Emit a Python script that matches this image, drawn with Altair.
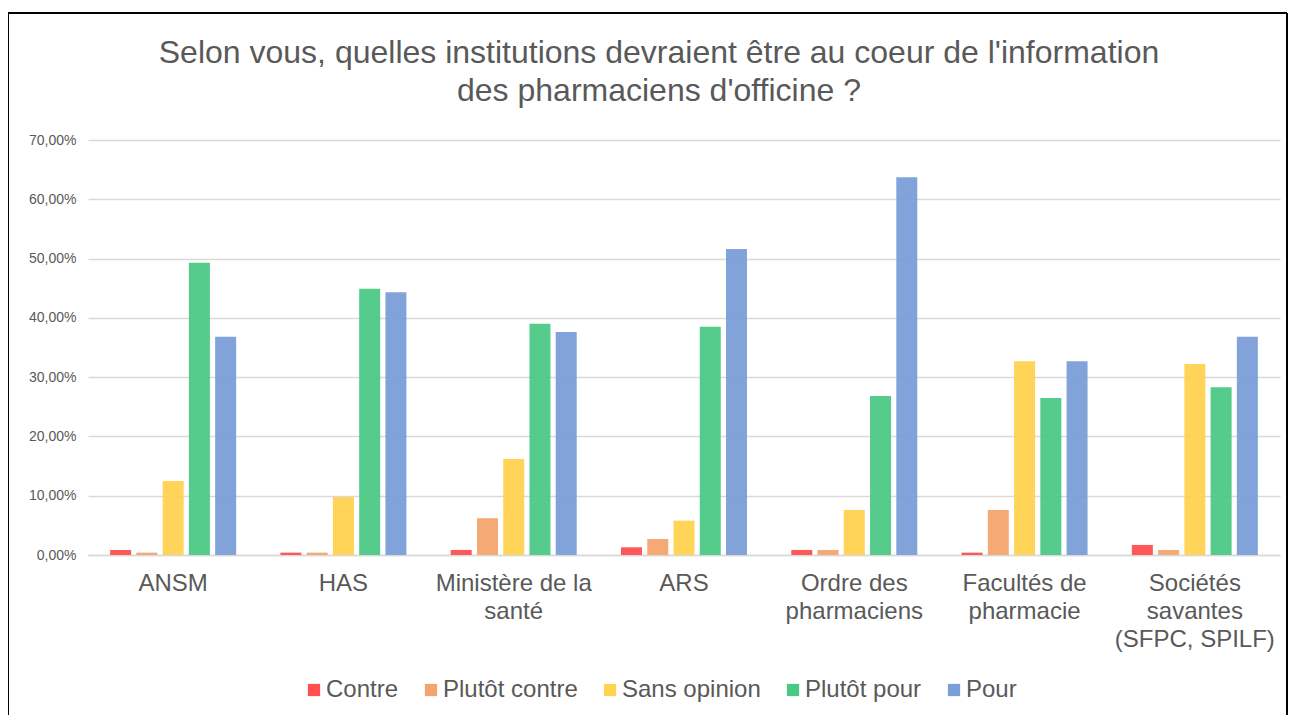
import altair as alt
import pandas as pd

categories = ["ANSM", "HAS", "Ministère de la santé", "ARS", "Ordre des pharmaciens",
              "Facultés de pharmacie", "Sociétés savantes (SFPC, SPILF)"]
label_lines = {
    "ANSM": ["ANSM"],
    "HAS": ["HAS"],
    "Ministère de la santé": ["Ministère de la", "santé"],
    "ARS": ["ARS"],
    "Ordre des pharmaciens": ["Ordre des", "pharmaciens"],
    "Facultés de pharmacie": ["Facultés de", "pharmacie"],
    "Sociétés savantes (SFPC, SPILF)": ["Sociétés", "savantes", "(SFPC, SPILF)"],
}
series = ["Contre", "Plutôt contre", "Sans opinion", "Plutôt pour", "Pour"]
colors = ["#FF4F4F", "#F4A46E", "#FFD24F", "#4CC886", "#7B9ED8"]

contre = [0.85, 0.4, 0.85, 1.3, 0.85, 0.4, 1.7]
plutot_contre = [0.4, 0.4, 6.2, 2.7, 0.85, 7.6, 0.85]
sans_opinion = [12.5, 9.8, 16.2, 5.8, 7.6, 32.7, 32.2]
plutot_pour = [49.3, 44.9, 39.0, 38.5, 26.8, 26.5, 28.3]
pour = [36.8, 44.3, 37.6, 51.6, 63.7, 32.7, 36.8]

values = [contre, plutot_contre, sans_opinion, plutot_pour, pour]
rows = []
for s, vals in zip(series, values):
    for c, v in zip(categories, vals):
        rows.append({"Institution": c, "Avis": s, "Valeur": v})
df = pd.DataFrame(rows)

# label expression for multi-line category labels
expr = "datum.label"
for c in reversed(categories):
    lines = label_lines[c]
    arr = "[" + ",".join("'" + l + "'" for l in lines) + "]"
    expr = f"datum.label === '{c}' ? {arr} : ({expr})"

W, H = 1192, 415
FONT = "Liberation Sans"
GREY = "#595959"

bars = alt.Chart(df).mark_bar(opacity=0.95).encode(
    x=alt.X("Institution:N", sort=categories,
            scale=alt.Scale(paddingInner=0.26, paddingOuter=0.13),
            axis=alt.Axis(title=None, labelAngle=0, labelFontSize=24, labelColor=GREY,
                          labelFont=FONT, labelPadding=16, labelLineHeight=28,
                          ticks=False, domainColor="#d9d9d9", domainWidth=1.5,
                          labelExpr=expr, labelBaseline="top")),
    xOffset=alt.XOffset("Avis:N", sort=series,
                        scale=alt.Scale(paddingInner=0.2, paddingOuter=0)),
    y=alt.Y("Valeur:Q", scale=alt.Scale(domain=[0, 70]),
            axis=alt.Axis(title=None, values=[0, 10, 20, 30, 40, 50, 60, 70],
                          labelExpr="replace(format(datum.value, '.2f'), '.', ',') + '%'",
                          labelFontSize=14, labelColor=GREY, labelFont=FONT,
                          labelPadding=12, ticks=False, domain=False,
                          gridColor="#d9d9d9", gridWidth=1.5)),
    color=alt.Color("Avis:N", sort=series,
                    scale=alt.Scale(domain=series, range=colors),
                    legend=alt.Legend(title=None, orient="none", direction="horizontal",
                                      legendX=214, legendY=538,
                                      symbolType="square", symbolSize=150,
                                      symbolStrokeWidth=0, symbolOpacity=1,
                                      labelFontSize=24, labelColor=GREY, labelFont=FONT,
                                      labelOffset=0, columnPadding=20)),
)

frame = alt.Chart(df).mark_rect(fill=None, stroke="#000000", strokeWidth=1).encode(
    x=alt.value(-80), x2=alt.value(W + 7), y=alt.value(-127), y2=alt.value(H + 200)
)

chart = alt.layer(bars, frame).properties(
    width=W, height=H,
    title=alt.TitleParams(
        ["Selon vous, quelles institutions devraient être au coeur de l'information",
         "des pharmaciens d'officine ?"],
        fontSize=32, font=FONT, color=GREY, fontWeight="normal",
        anchor="middle", dx=-25, offset=-95, lineHeight=38),
    autosize=alt.AutoSizeParams(type="none"),
    padding={"left": 80, "top": 132, "right": 8, "bottom": 160},
).configure_view(stroke=None)

chart.save("out.html", embed_options={"renderer": "svg", "actions": False})
